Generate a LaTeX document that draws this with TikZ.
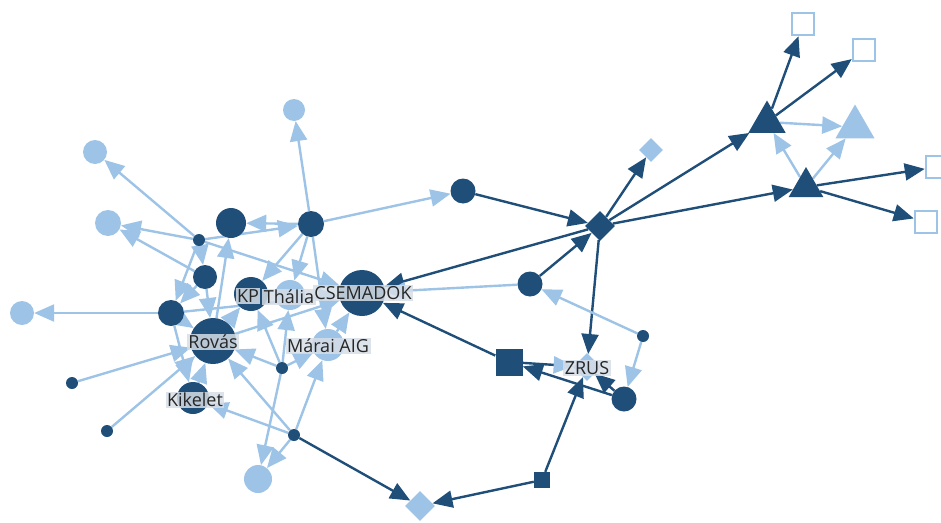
\documentclass[tikz,border=0pt]{standalone}
\usepackage{fontspec}
\setmainfont{Open Sans}
\usetikzlibrary{shapes.geometric,arrows.meta,backgrounds}
\definecolor{darkb}{HTML}{1F4E79}
\definecolor{lightb}{HTML}{9DC3E6}
\definecolor{ink}{HTML}{262626}
\definecolor{tagbg}{HTML}{D6DEE6}
\tikzstyle{dk}=[circle,fill=darkb,inner sep=0pt]
\tikzstyle{lt}=[circle,fill=lightb,inner sep=0pt]
\tikzstyle{dia}=[diamond,inner sep=0pt,minimum size=30pt]
\tikzstyle{tri}=[regular polygon,regular polygon sides=3,inner sep=0pt,minimum size=43pt]
\tikzstyle{box}=[rectangle,draw=lightb,line width=2.5pt,fill=white,minimum size=22pt,inner sep=0pt]
\tikzstyle{tag}=[fill=tagbg,fill opacity=0.85,text opacity=1,text=ink,inner sep=1.5pt,font=\fontsize{18}{18}\selectfont]
\tikzset{tip/.tip={Triangle[length=20pt,width=17pt]}}
\tikzstyle{dline}=[draw=darkb,line width=2.4pt,-tip]
\tikzstyle{lline}=[draw=lightb,line width=2.4pt,-tip]

\begin{document}
\begin{tikzpicture}[x=1pt,y=-1pt]
  \useasboundingbox (0,0) rectangle (941,522);
  % left cluster
  \node[lt,minimum size=22pt] (lc1) at (294,110) {};
  \node[lt,minimum size=24pt] (lc2) at (95,152) {};
  \node[lt,minimum size=26pt] (lc3) at (108,223) {};
  \node[lt,minimum size=24pt] (lc4) at (22,313) {};
  \node[lt,minimum size=28pt] (lc5) at (258,479) {};
  \node[dk,minimum size=30pt] (dbig) at (231,223) {};
  \node[dk,minimum size=26pt] (dhub) at (311,224) {};
  \node[dk,minimum size=12pt] (ds1) at (199,240) {};
  \node[dk,minimum size=24pt] (d2) at (205,277) {};
  \node[dk,minimum size=26pt] (d3) at (171,313) {};
  \node[dk,minimum size=34pt] (kp) at (251,294) {};
  \node[lt,minimum size=30pt] (thalia) at (290,295) {};
  \node[dk,minimum size=46pt] (csem) at (362,293) {};
  \node[dk,minimum size=46pt] (rovas) at (213,341) {};
  \node[lt,minimum size=32pt] (marai) at (328,345) {};
  \node[dk,minimum size=12pt] (ds2) at (282,368) {};
  \node[dk,minimum size=32pt] (kikelet) at (193,398) {};
  \node[dk,minimum size=12pt] (ds3) at (72,383) {};
  \node[dk,minimum size=12pt] (ds4) at (107,431) {};
  \node[dk,minimum size=12pt] (ds5) at (294,435) {};
  % right part
  \node[dia,fill=lightb] (ldia) at (420,506) {};
  \node[dk,minimum size=25pt] (dc1) at (463,191) {};
  \node[dia,fill=darkb] (ddia) at (600,226) {};
  \node[dk,minimum size=25pt] (dc2) at (530,284) {};
  \node[rectangle,fill=darkb,minimum size=27pt] (dsq) at (509,362) {};
  \node[dia,fill=lightb,minimum size=28pt] (zrus) at (587,367) {};
  \node[dk,minimum size=12pt] (ds6) at (643,336) {};
  \node[dk,minimum size=25pt] (dc3) at (624,399) {};
  \node[rectangle,fill=darkb,minimum size=16pt] (dsq2) at (542,480) {};
  \node[dia,fill=lightb,minimum size=24pt] (ldia2) at (651,150) {};
  \node[tri,fill=darkb] (tri1) at (767,122) {};
  \node[tri,fill=darkb,minimum size=40pt] (tri2) at (806,187) {};
  \node[tri,fill=lightb,minimum size=45pt] (ltri) at (855,127) {};
  \node[box] (sq1) at (803,24) {};
  \node[box] (sq2) at (864,50) {};
  \node[box] (sq3) at (937,167) {};
  \node[box] (sq4) at (926,222) {};

  \begin{scope}[on background layer]
    % dark links
    \draw[dline] (dc1) -- (ddia);
    \draw[dline] (ddia) -- (csem);
    \draw[dline] (ddia) -- (ldia2);
    \draw[dline] (ddia) -- (tri1);
    \draw[dline] (ddia) -- (tri2);
    \draw[dline] (ddia) -- (zrus);
    \draw[dline] (dc2) -- (ddia);
    \draw[dline] (tri1) -- (sq1);
    \draw[dline] (tri1) -- (sq2);
    \draw[dline] (tri2) -- (sq3);
    \draw[dline] (tri2) -- (sq4);
    \draw[dline] (dsq) -- (csem);
    \draw[dline,-{Triangle[length=20pt,width=17pt,color=lightb]}] (dsq) -- (zrus);
    \draw[dline] (dc3) -- (dsq);
    \draw[dline] (dc3) -- (zrus);
    \draw[dline] (dsq2) -- (zrus);
    \draw[dline] (dsq2) -- (ldia);
    \draw[dline] (ds5) -- (ldia);
    % light links
    \foreach \a/\b in {tri1/ltri,tri2/ltri,tri2/tri1,ds6/dc2,ds6/dc3,dc2/csem,
      dhub/lc1,dhub/dc1,dhub/dbig,dhub/kp,dhub/thalia,dhub/marai,
      ds1/dhub,ds1/lc2,ds1/lc3,ds1/d2,ds1/d3,ds1/csem,
      d2/lc3,d2/rovas,d2/d3,d3/lc4,d3/rovas,d3/kikelet,d3/csem,
      rovas/dbig,rovas/kp,rovas/csem,
      ds2/rovas,ds2/thalia,ds2/kp,ds2/marai,ds2/lc5,
      ds5/lc5,ds5/rovas,ds5/kikelet,ds5/marai,
      ds3/rovas,ds4/rovas,kikelet/rovas,marai/csem}
      \draw[lline] (\a) -- (\b);
  \end{scope}

  % labels
  \node[tag] (tkp) at (248,296) {KP};
  \node[tag] (tthalia) at (289,297) {Thália};
  \node[tag] (tcsem) at (363,293) {CSEMADOK};
  \node[tag] (trovas) at (213,342) {Rovás};
  \node[tag] (tmarai) at (328,346) {Márai AIG};
  \node[tag] (tkikelet) at (195,400) {Kikelet};
  \node[tag] (tzrus) at (587,368) {ZRUS};
\end{tikzpicture}
\end{document}
